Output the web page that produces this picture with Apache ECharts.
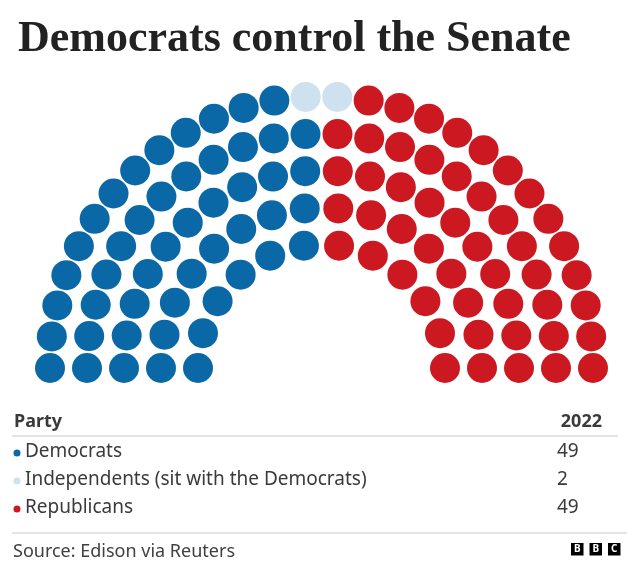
<!DOCTYPE html>
<html>
<head>
<meta charset="utf-8">
<script src="https://cdn.jsdelivr.net/npm/echarts@6/dist/echarts.min.js"></script>
<style>html,body{margin:0;padding:0;background:#fff}#c{width:640px;height:566px}</style>
</head>
<body>
<div id="c"></div>
<script>
// ---- data ----
const titleText = 'Democrats control the Senate';
const partyNames = ['Democrats', 'Independents (sit with the Democrats)', 'Republicans'];
const partySeats = [49, 2, 49];
const partyColors = ['#0b68a6', '#cde2ee', '#cc1820'];
const ringSeats = [12, 16, 20, 24, 28]; // seats in each ring, inner to outer
const yearLabel = '2022';
const sourceText = 'Source: Edison via Reuters';

// ---- build seats ordered left to right by angle ----
const seats = [];
ringSeats.forEach((n, ring) => {
  for (let j = 0; j < n; j++) seats.push({ ring, angle: 180 * j / (n - 1) });
});
seats.sort((a, b) => a.angle - b.angle || a.ring - b.ring);
const seriesData = partyNames.map(() => []);
let idx = 0;
partySeats.forEach((count, p) => {
  for (let k = 0; k < count; k++, idx++) seriesData[p].push([seats[idx].ring, seats[idx].angle]);
});

const SANS = '"Noto Sans", sans-serif';
const TXT = '#3a3a3c';
const chart = echarts.init(document.getElementById('c'), null, { renderer: 'canvas' });

const graphics = [];
graphics.push({ type: 'text', x: 14, y: 421.5, style: { text: 'Party', font: 'bold 18px ' + SANS, fill: TXT, verticalAlign: 'middle' } });
graphics.push({ type: 'text', x: 602, y: 421.5, style: { text: yearLabel, font: 'bold 18px ' + SANS, fill: TXT, align: 'right', verticalAlign: 'middle' } });
graphics.push({ type: 'line', shape: { x1: 12, y1: 436, x2: 618, y2: 436 }, style: { stroke: '#c8c8c8', lineWidth: 1 } });
partyNames.forEach((name, i) => {
  const y = 452 + i * 28;
  graphics.push({ type: 'circle', shape: { cx: 17, cy: y + 1, r: 3.5 }, style: { fill: partyColors[i] } });
  graphics.push({ type: 'text', x: 25, y: y, style: { text: name, font: '19px ' + SANS, fill: TXT, verticalAlign: 'middle' } });
  graphics.push({ type: 'text', x: 557, y: y, style: { text: String(partySeats[i]), font: '19px ' + SANS, fill: TXT, verticalAlign: 'middle' } });
});
graphics.push({ type: 'line', shape: { x1: 12, y1: 533, x2: 627, y2: 533 }, style: { stroke: '#c8c8c8', lineWidth: 1 } });
graphics.push({ type: 'text', x: 13, y: 551.7, style: { text: sourceText, font: '18px ' + SANS, fill: '#404040', verticalAlign: 'middle' } });
['B', 'B', 'C'].forEach((ch, i) => {
  const x = 571 + i * 18.5;
  graphics.push({ type: 'rect', shape: { x: x, y: 543, width: 12.5, height: 12.5 }, style: { fill: '#000' } });
  graphics.push({ type: 'text', x: x + 6.25, y: 549.5, style: { text: ch, font: 'bold 10px ' + SANS, fill: '#fff', align: 'center', verticalAlign: 'middle' } });
});

chart.setOption({
  animation: false,
  title: {
    text: titleText, left: 13, top: 13,
    textStyle: { fontFamily: '"Liberation Serif", serif', fontWeight: 'bold', fontSize: 44, color: '#222' }
  },
  polar: { center: [321.5, 368], radius: [123.5, 271.5] },
  angleAxis: { type: 'value', min: 0, max: 360, startAngle: 180, clockwise: true, show: false },
  radiusAxis: { type: 'value', min: 0, max: 4, show: false },
  series: partyNames.map((name, i) => ({
    name, type: 'scatter', coordinateSystem: 'polar',
    symbolSize: 30, itemStyle: { color: partyColors[i], opacity: 1 },
    data: seriesData[i]
  })),
  graphic: graphics
});
</script>
</body>
</html>
